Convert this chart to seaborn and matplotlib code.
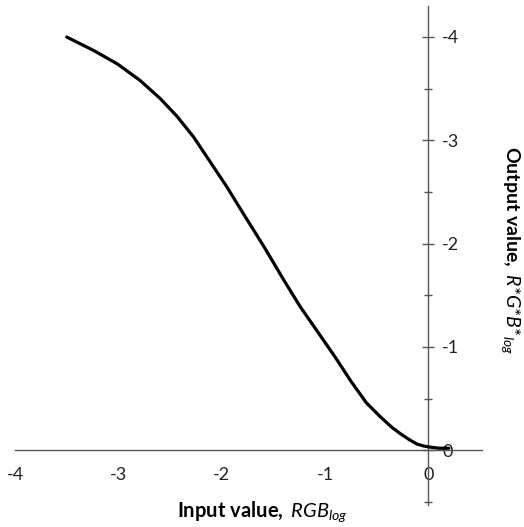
import pandas as pd
import matplotlib
matplotlib.use("Agg")
import matplotlib.pyplot as plt
import seaborn as sns

# values (input -> output, both log)
input_vals = [-3.50, -3.24, -3.01, -2.79, -2.59, -2.43, -2.27, -2.11, -1.95, -1.79,
              -1.59, -1.40, -1.24, -1.08, -0.90, -0.75, -0.60, -0.46, -0.35, -0.27,
              -0.18, -0.11, -0.04, 0.02, 0.10, 0.20]
output_vals = [-4.00, -3.87, -3.74, -3.58, -3.40, -3.23, -3.03, -2.79, -2.55, -2.29,
               -1.97, -1.65, -1.39, -1.16, -0.90, -0.67, -0.46, -0.32, -0.22, -0.16,
               -0.10, -0.06, -0.04, -0.03, -0.02, -0.02]
x_ticks = [-4, -3, -2, -1, 0]
y_ticks = [-4, -3, -2, -1, 0]
minor_ticks = [-3.5, -2.5, -1.5, -0.5, 0.5]

sns.set_style("white")
plt.rcParams['font.family'] = ['Lato', 'DejaVu Sans']
plt.rcParams['axes.unicode_minus'] = False
plt.rcParams['mathtext.fontset'] = 'custom'
plt.rcParams['mathtext.rm'] = 'Lato'
plt.rcParams['mathtext.it'] = 'Lato:italic'
plt.rcParams['mathtext.bf'] = 'Lato:bold'

df = pd.DataFrame({'inp': input_vals, 'out': output_vals})

fig = plt.figure(figsize=(5.24, 5.27), dpi=100)
ax = fig.add_axes([15/524, 22/527, 467/524, 499/527])
sns.lineplot(data=df, x='inp', y='out', color='black', lw=2.3, ax=ax, zorder=5, sort=False)

ax.set_xlim(-4.0, 0.52)
ax.set_ylim(0.53, -4.3)  # inverted: -4 at the top

# axes crossing at the origin, y labels to the right of the y-axis
ax.spines['top'].set_visible(False)
ax.spines['left'].set_visible(False)
ax.spines['right'].set_position(('data', 0))
ax.spines['bottom'].set_position(('data', 0))
for s in ['right', 'bottom']:
    ax.spines[s].set_color('#555555')
    ax.spines[s].set_linewidth(1.0)
ax.yaxis.tick_right()

ax.set_xticks(x_ticks)
ax.set_yticks(y_ticks)
ax.set_xticks(minor_ticks, minor=True)
ax.set_yticks(minor_ticks, minor=True)
ax.set_xticklabels([str(v) for v in x_ticks])
ax.set_yticklabels([str(v) for v in y_ticks])
ax.tick_params(which='major', direction='inout', length=8, width=1, color='#555555',
               labelsize=13, labelcolor='#222222')
ax.tick_params(which='minor', direction='inout', length=5.5, width=1, color='#555555')
ax.tick_params(axis='x', which='major', pad=8)
ax.tick_params(axis='y', which='major', pad=6)

# the x "0" label breaks the y-axis line below the origin
for lbl in ax.get_xticklabels():
    if lbl.get_text() == '0':
        lbl.set_bbox(dict(facecolor='white', edgecolor='none', pad=1))

ax.set_xlabel('')
ax.set_ylabel('')
fig.text(262/524, 1 - 517/527, r'$\mathbf{Input\ value,}\ \mathit{RGB}_{\mathit{log}}$',
         ha='center', va='baseline', fontsize=14.5, color='black')
fig.text(510/524, 1 - 250/527,
         r'$\mathbf{Output\ value,}\ \mathit{R}\text{*}\mathit{G}\text{*}\mathit{B}\text{*}_{\mathit{log}}$',
         ha='center', va='center', rotation=270, fontsize=14, color='black')

fig.savefig('out.png', dpi=100, facecolor='white')
